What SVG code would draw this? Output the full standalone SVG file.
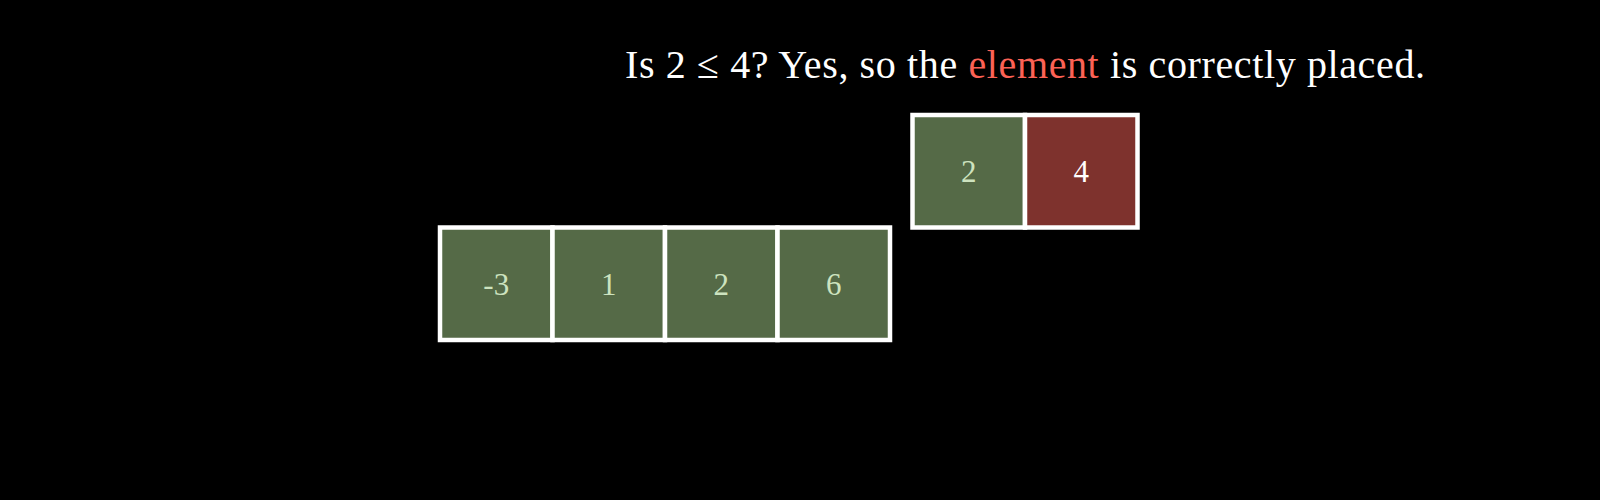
<svg xmlns="http://www.w3.org/2000/svg" width="1600" height="500" viewBox="0 0 1600 500">
<style>
.cell{stroke:#FFFFFF;stroke-width:4.5}
.g{fill:#556A47}
.r{fill:#7E322D}
.num{font-family:"Liberation Serif","Times New Roman",serif;font-size:31px;text-anchor:middle;dominant-baseline:central}
.ng{fill:#CDE3BF}
.nw{fill:#FFFFFF}
.title{font-family:"Liberation Serif","Times New Roman",serif;font-size:40px;fill:#FFFFFF}
</style>
<rect width="1600" height="500" fill="#000000"/>
<g id="title">
<text class="title" x="625" y="78" textLength="800" lengthAdjust="spacing">Is 2 ≤ 4? Yes, so the <tspan fill="#FC6255">element</tspan> is correctly placed.</text>
</g>
<g id="connectors"></g>
<g id="cell-0"><rect class="cell g" x="440" y="227.5" width="112.5" height="112.5"/><text class="num ng" x="496.25" y="284">-3</text></g>
<g id="cell-1"><rect class="cell g" x="552.5" y="227.5" width="112.5" height="112.5"/><text class="num ng" x="608.75" y="284">1</text></g>
<g id="cell-2"><rect class="cell g" x="665" y="227.5" width="112.5" height="112.5"/><text class="num ng" x="721.25" y="284">2</text></g>
<g id="cell-3"><rect class="cell g" x="777.5" y="227.5" width="112.5" height="112.5"/><text class="num ng" x="833.75" y="284">6</text></g>
<g id="cmp-left"><rect class="cell g" x="912.5" y="115" width="112.5" height="112.5"/><text class="num ng" x="968.75" y="171.5">2</text></g>
<g id="cmp-right"><rect class="cell r" x="1025" y="115" width="112.5" height="112.5"/><text class="num nw" x="1081.25" y="171.5">4</text></g>
</svg>
